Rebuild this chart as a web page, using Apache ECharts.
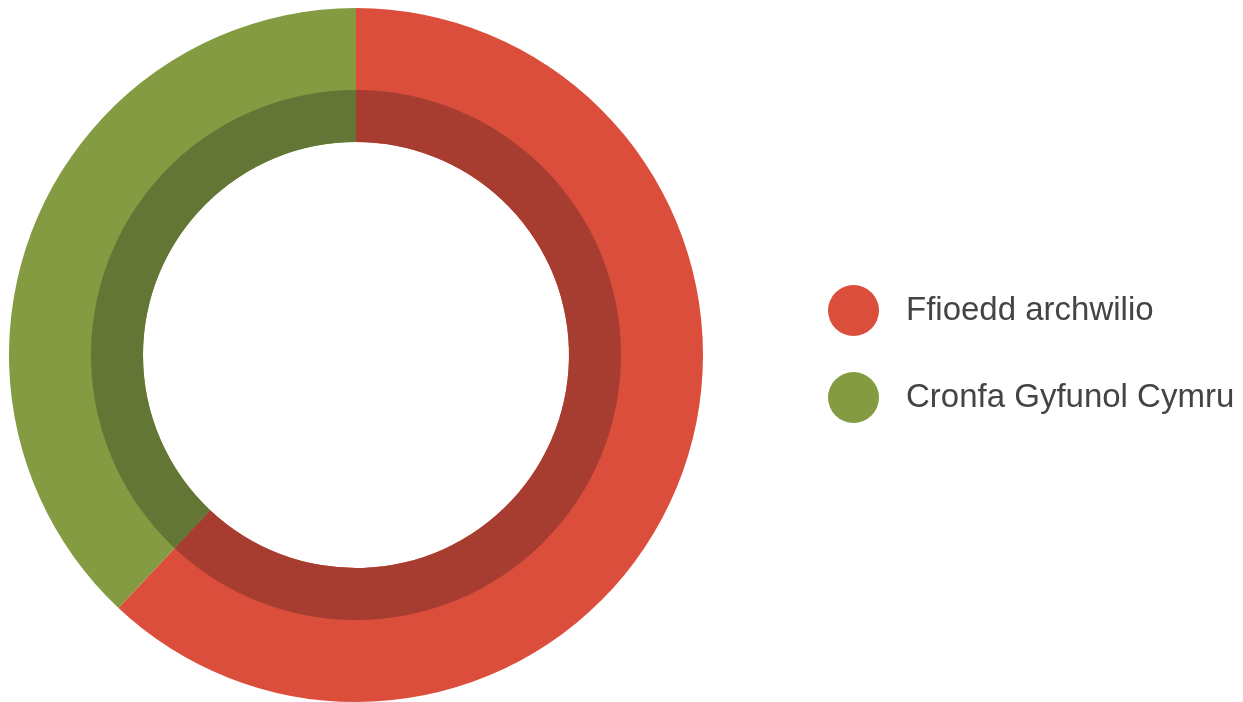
<!DOCTYPE html>
<html>
<head>
<meta charset="utf-8">
<script src="https://cdn.jsdelivr.net/npm/echarts@6/dist/echarts.min.js"></script>
<style>html,body{margin:0;padding:0;background:#fff;}#c{width:1243px;height:702px;}</style>
</head>
<body>
<div id="c"></div>
<script>
const categories = ['Ffioedd archwilio', 'Cronfa Gyfunol Cymru'];
const values = [62, 38];
const colors = ['#DC4E3C', '#849B41'];
const darkColors = ['#A73C31', '#647635'];

const chart = echarts.init(document.getElementById('c'), null, {renderer: 'canvas'});
const mk = (cols) => categories.map((n, i) => ({name: n, value: values[i], itemStyle: {color: cols[i]}}));
chart.setOption({
  animation: false,
  legend: {
    orient: 'vertical',
    left: 823,
    top: 280,
    itemWidth: 51,
    itemHeight: 51,
    itemGap: 36,
    icon: 'circle',
    data: categories,
    selectedMode: false,
    textStyle: {fontFamily: 'Liberation Sans, Arial, sans-serif', fontSize: 33, color: '#444444', padding: [0, 0, 0, 22]}
  },
  series: [
    {
      type: 'pie', center: [356, 355], radius: [213, 347], startAngle: 90, clockwise: true,
      label: {show: false}, labelLine: {show: false}, silent: true,
      emphasis: {disabled: true},
      itemStyle: {borderWidth: 0},
      data: mk(colors)
    },
    {
      type: 'pie', center: [356, 355], radius: [213, 265], startAngle: 90, clockwise: true,
      label: {show: false}, labelLine: {show: false}, silent: true,
      emphasis: {disabled: true},
      itemStyle: {borderWidth: 0},
      data: mk(darkColors)
    }
  ]
});
</script>
</body>
</html>
